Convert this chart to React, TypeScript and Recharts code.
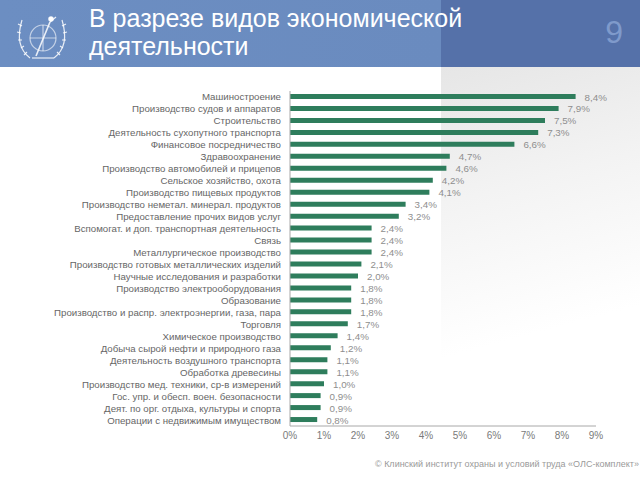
import React from 'react';
import { BarChart, Bar, XAxis, YAxis, LabelList } from 'recharts';

const categories = [
  'Машиностроение',
  'Производство судов и аппаратов',
  'Строительство',
  'Деятельность сухопутного транспорта',
  'Финансовое посредничество',
  'Здравоохранение',
  'Производство автомобилей и прицепов',
  'Сельское хозяйство, охота',
  'Производство пищевых продуктов',
  'Производство неметал. минерал. продуктов',
  'Предоставление прочих видов услуг',
  'Вспомогат. и доп. транспортная деятельность',
  'Связь',
  'Металлургическое производство',
  'Производство готовых металлических изделий',
  'Научные исследования и разработки',
  'Производство электрооборудования',
  'Образование',
  'Производство и распр. электроэнергии, газа, пара',
  'Торговля',
  'Химическое производство',
  'Добыча сырой нефти и природного газа',
  'Деятельность воздушного транспорта',
  'Обработка древесины',
  'Производство мед. техники, ср-в измерений',
  'Гос. упр. и обесп. воен. безопасности',
  'Деят. по орг. отдыха, культуры и спорта',
  'Операции с недвижимым имуществом',
];

const shares = [8.4, 7.9, 7.5, 7.3, 6.6, 4.7, 4.6, 4.2, 4.1, 3.4, 3.2, 2.4, 2.4, 2.4, 2.1, 2.0, 1.8, 1.8, 1.8, 1.7, 1.4, 1.2, 1.1, 1.1, 1.0, 0.9, 0.9, 0.8];

const xTicks = [0, 1, 2, 3, 4, 5, 6, 7, 8, 9];

const titleLines = ['В разрезе видов экономической', 'деятельности'];
const pageNumber = '9';
const footerText = '© Клинский институт охраны и условий труда «ОЛС-комплект»';

const data = categories.map((name, i) => ({ name, value: shares[i] }));

const FONT = '"Liberation Sans", Arial, sans-serif';

const fmt = (v: number) => v.toFixed(1).replace('.', ',') + '%';

const ValueLabel = (props: any) => {
  const { x, y, width, height, value } = props;
  return (
    <text
      x={Number(x) + Number(width) + 9}
      y={Number(y) + Number(height) / 2 + 4}
      fontSize={9.8}
      fill="#8e8e8e"
      fontFamily={FONT}
    >
      {fmt(Number(value))}
    </text>
  );
};

const CategoryTick = (props: any) => {
  const { x, y, payload } = props;
  return (
    <text
      x={x}
      y={y}
      dy={3.5}
      textAnchor="end"
      fontSize={9.7}
      fill="#666666"
      fontFamily={FONT}
    >
      {payload.value}
    </text>
  );
};

const Logo = () => (
  <svg width={80} height={67} style={{ position: 'absolute', left: 0, top: 0 }}>
    <g fill="none" stroke="#ffffff" strokeOpacity={0.85} strokeWidth={1.2}>
      <path d="M30 58 Q14 46 22 20" />
      <path d="M54 58 Q70 46 62 20" />
      <path d="M22 26 l-4 -2 M21 33 l-4 -1 M22 40 l-4 0 M24 46 l-3 2 M27 52 l-3 3" />
      <path d="M62 26 l4 -2 M63 33 l4 -1 M62 40 l4 0 M60 46 l3 2 M57 52 l3 3" />
      <circle cx={43} cy={38} r={13} strokeOpacity={0.6} />
      <path d="M30 38 H56 M43 25 V51" strokeOpacity={0.6} />
      <path d="M36 56 L50 22" strokeWidth={1.6} />
      <circle cx={51} cy={19} r={2.2} fill="#ffffff" />
      <path d="M50 22 L56 17" />
      <path d="M32 58 H54" />
    </g>
  </svg>
);

export default function App() {
  return (
    <div
      style={{
        position: 'absolute',
        left: 0,
        top: 0,
        width: 640,
        height: 480,
        background: '#ffffff',
        overflow: 'hidden',
        fontFamily: FONT,
      }}
    >
      <div
        style={{
          position: 'absolute',
          left: 441,
          top: 67,
          width: 199,
          height: 290,
          background: 'linear-gradient(165deg, #e6e6e6 0%, #f3f3f3 40%, #ffffff 85%)',
        }}
      />
      <div
        style={{
          position: 'absolute',
          left: 0,
          top: 0,
          width: 441,
          height: 67,
          background: 'linear-gradient(to right, #6c8ec2, #6a8bbf)',
        }}
      />
      <div
        style={{
          position: 'absolute',
          left: 441,
          top: 0,
          width: 199,
          height: 67,
          background: '#5571a9',
        }}
      />
      <Logo />
      <div
        style={{
          position: 'absolute',
          left: 89,
          top: 4,
          color: '#ffffff',
          fontSize: 25,
          lineHeight: '28px',
          whiteSpace: 'nowrap',
        }}
      >
        {titleLines.map((l) => (
          <div key={l}>{l}</div>
        ))}
      </div>
      <div
        style={{
          position: 'absolute',
          right: 17,
          top: 14,
          color: '#7f9acb',
          fontSize: 32,
          lineHeight: '36px',
        }}
      >
        {pageNumber}
      </div>
      <div style={{ position: 'absolute', left: 0, top: 0 }}>
        <BarChart
          width={640}
          height={480}
          data={data}
          layout="vertical"
          margin={{ top: 91, right: 44, bottom: 24, left: 1 }}
          barCategoryGap={0}
        >
          <XAxis
            type="number"
            domain={[0, 9]}
            ticks={xTicks}
            tickFormatter={(v: number) => `${v}%`}
            axisLine={{ stroke: '#a8a8a8' }}
            tickLine={false}
            tickSize={4}
            tick={{ fontSize: 10, fill: '#7a7a7a', fontFamily: FONT }}
            interval={0}
          />
          <YAxis
            type="category"
            dataKey="name"
            width={289}
            interval={0}
            axisLine={{ stroke: '#a8a8a8' }}
            tickLine={false}
            tickSize={7}
            tick={<CategoryTick />}
          />
          <Bar dataKey="value" fill="#2e7d5c" barSize={5} isAnimationActive={false}>
            <LabelList dataKey="value" content={ValueLabel} />
          </Bar>
        </BarChart>
      </div>
      <div
        style={{
          position: 'absolute',
          left: 375,
          top: 459,
          fontSize: 9,
          color: '#9a9a9a',
          whiteSpace: 'nowrap',
        }}
      >
        {footerText}
      </div>
    </div>
  );
}
